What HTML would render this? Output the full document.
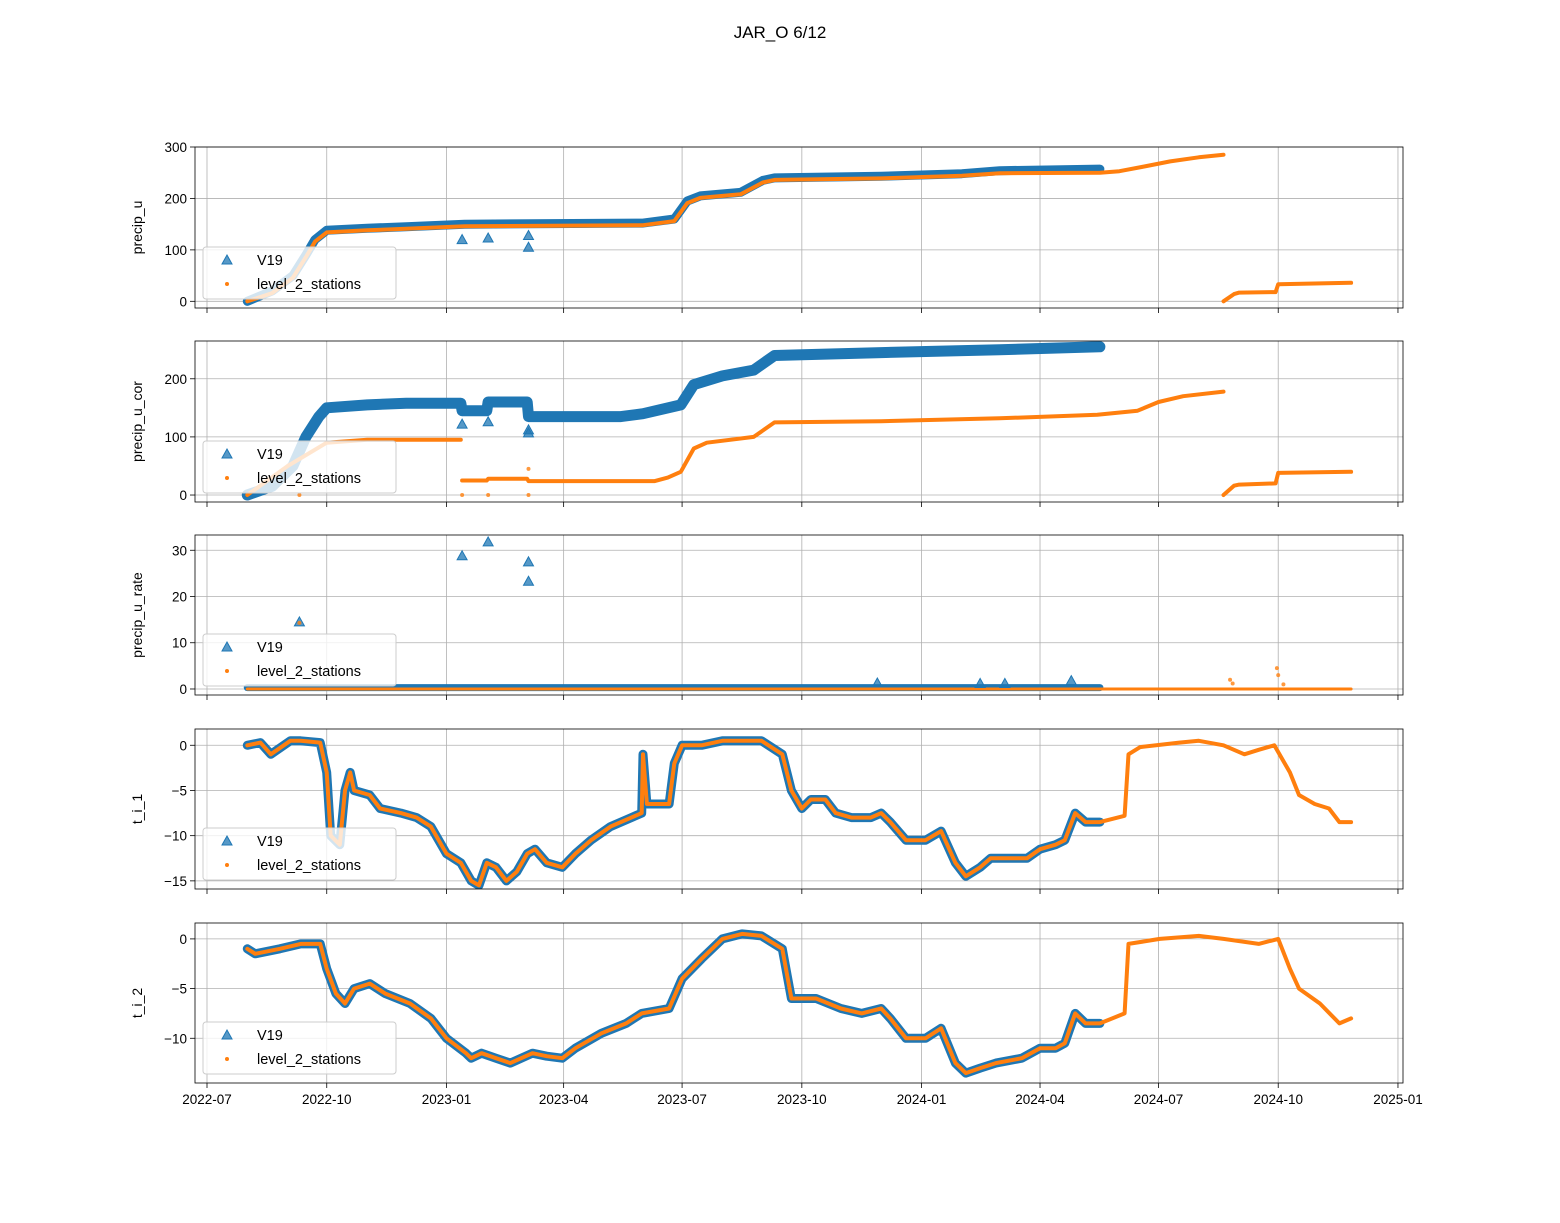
<!DOCTYPE html>
<html><head><meta charset="utf-8"><style>
body{margin:0;background:#fff;}
svg text{font-family:"Liberation Sans","DejaVu Sans",sans-serif;}
</style></head><body>
<svg id="fig" width="1560" height="1218" viewBox="0 0 1560 1218" xmlns="http://www.w3.org/2000/svg">
<rect width="1560" height="1218" fill="#fff"/>
<text x="780" y="38" text-anchor="middle" font-size="17">JAR_O 6/12</text>
</svg>
<script>
// ---------- data ----------
const xTickLabels = ["2022-07","2022-10","2023-01","2023-04","2023-07","2023-10","2024-01","2024-04","2024-07","2024-10","2025-01"];

const p1BlueDates = ["2022-08-01","2022-08-20","2022-09-05","2022-09-15","2022-09-22","2022-10-01","2022-11-01","2022-12-01","2023-01-15","2023-06-01","2023-06-25","2023-07-05","2023-07-15","2023-08-15","2023-09-01","2023-09-10","2023-12-01","2024-02-01","2024-03-01","2024-05-17"];
const p1BlueVals  = [0,20,50,90,120,138,142,145,150,152,160,195,205,212,235,240,243,248,254,257];
const p1OrangeDates = ["2022-08-01","2022-08-20","2022-09-05","2022-09-15","2022-09-22","2022-10-01","2022-11-01","2022-12-01","2023-01-15","2023-06-01","2023-06-25","2023-07-05","2023-07-15","2023-08-15","2023-09-01","2023-09-10","2023-12-01","2024-02-01","2024-03-01","2024-05-17","2024-06-01","2024-06-20","2024-07-10","2024-08-01","2024-08-20",null,"2024-08-20","2024-08-28","2024-09-01","2024-09-29","2024-10-01","2024-11-26"];
const p1OrangeVals  = [0,16,46,86,116,134,138,141,146,148,156,191,201,208,231,236,239,244,249,250,253,262,272,280,285,null,0,14,17,18,33,36];
const p1BlueOutDates = ["2023-01-13","2023-02-02","2023-03-05","2023-03-05"];
const p1BlueOutVals  = [120,123,105,128];

const p2BlueDates = ["2022-08-01","2022-08-20","2022-09-05","2022-09-15","2022-09-25","2022-10-01","2022-11-01","2022-12-01","2023-01-12","2023-01-13","2023-02-01","2023-02-02","2023-03-04","2023-03-05","2023-05-15","2023-06-01","2023-06-30","2023-07-10","2023-08-01","2023-08-25","2023-09-10","2023-12-01","2024-03-01","2024-05-17"];
const p2BlueVals  = [0,15,50,100,135,150,155,158,158,145,145,160,160,135,135,140,155,190,205,215,240,245,250,255];
const p2OrangeDates = ["2022-08-01","2022-09-01","2022-10-01","2022-11-01","2023-01-12",null,"2023-01-13","2023-02-01","2023-02-02","2023-03-04","2023-03-05","2023-06-10","2023-06-20","2023-06-30","2023-07-10","2023-07-20","2023-08-25","2023-09-10","2023-12-01","2024-03-01","2024-05-15","2024-06-15","2024-07-01","2024-07-20","2024-08-20",null,"2024-08-20","2024-08-28","2024-09-01","2024-09-29","2024-10-01","2024-11-26"];
const p2OrangeVals  = [0,50,90,95,95,null,25,25,28,28,24,24,30,40,80,90,100,125,127,132,138,145,160,170,178,null,0,16,18,20,38,40];
const p2BlueOutDates = ["2023-01-13","2023-02-02","2023-03-05","2023-03-05"];
const p2BlueOutVals  = [122,126,112,107];
const p2OrangeOutDates = ["2022-09-10","2023-01-13","2023-02-02","2023-03-05","2023-03-05"];
const p2OrangeOutVals  = [0,0,0,0,45];

const p3BlueDates = ["2022-08-01","2024-05-17"];
const p3BlueVals  = [0.3,0.3];
const p3OrangeDates = ["2022-08-01","2024-11-26"];
const p3OrangeVals  = [0,0];
const p3BlueOutDates = ["2022-09-10","2023-01-13","2023-02-02","2023-03-05","2023-03-05","2023-11-28","2024-02-15","2024-03-05","2024-04-25"];
const p3BlueOutVals  = [14.5,28.8,31.8,27.5,23.3,1.3,1.2,1.2,1.8];
const p3OrangeOutDates = ["2022-09-10","2024-08-25","2024-08-27","2024-09-30","2024-10-01","2024-10-05"];
const p3OrangeOutVals  = [14.3,2,1.2,4.5,3,1];

const p4BlueDates = ["2022-08-01","2022-08-11","2022-08-19","2022-09-03","2022-09-11","2022-09-26","2022-10-01","2022-10-04","2022-10-11","2022-10-15","2022-10-19","2022-10-22","2022-11-03","2022-11-11","2022-11-27","2022-12-09","2022-12-20","2023-01-01","2023-01-12","2023-01-20","2023-01-26","2023-02-01","2023-02-08","2023-02-16","2023-02-24","2023-03-04","2023-03-10","2023-03-19","2023-03-31","2023-04-10","2023-04-22","2023-05-07","2023-05-23","2023-05-31","2023-06-01","2023-06-04","2023-06-21","2023-06-25","2023-07-01","2023-07-16","2023-08-01","2023-08-16","2023-08-31","2023-09-16","2023-09-23","2023-10-01","2023-10-08","2023-10-19","2023-10-27","2023-11-08","2023-11-23","2023-12-01","2023-12-08","2023-12-20","2024-01-04","2024-01-16","2024-01-27","2024-02-04","2024-02-15","2024-02-23","2024-03-10","2024-03-22","2024-04-01","2024-04-13","2024-04-20","2024-04-28","2024-05-06","2024-05-17"];
const p4BlueVals = [0,0.3,-1,0.5,0.5,0.3,-3,-10,-11,-5,-3,-5,-5.5,-7,-7.5,-8,-9,-12,-13,-15,-15.5,-13,-13.5,-15,-14,-12,-11.5,-13,-13.5,-12,-10.5,-9,-8,-7.5,-1,-6.5,-6.5,-2,0,0,0.5,0.5,0.5,-1,-5,-7,-6,-6,-7.5,-8,-8,-7.5,-8.5,-10.5,-10.5,-9.5,-13,-14.5,-13.5,-12.5,-12.5,-12.5,-11.5,-11,-10.5,-7.5,-8.5,-8.5];
const p4OrangeExtDates = ["2024-05-17","2024-06-05","2024-06-08","2024-06-17","2024-07-17","2024-08-01","2024-08-20","2024-09-05","2024-09-16","2024-09-28","2024-10-10","2024-10-17","2024-10-29","2024-11-09","2024-11-17","2024-11-26"];
const p4OrangeExtVals  = [-8.5,-7.8,-1,-0.2,0.3,0.5,0,-1,-0.5,0,-3,-5.5,-6.5,-7,-8.5,-8.5];

const p5BlueDates = ["2022-08-01","2022-08-07","2022-08-26","2022-09-11","2022-09-26","2022-10-01","2022-10-08","2022-10-15","2022-10-22","2022-11-03","2022-11-15","2022-12-04","2022-12-20","2023-01-01","2023-01-16","2023-01-20","2023-01-28","2023-02-08","2023-02-19","2023-03-08","2023-03-19","2023-03-31","2023-04-10","2023-04-30","2023-05-19","2023-05-31","2023-06-21","2023-07-01","2023-07-16","2023-08-01","2023-08-16","2023-08-31","2023-09-16","2023-09-23","2023-10-01","2023-10-12","2023-10-31","2023-11-16","2023-12-01","2023-12-08","2023-12-20","2024-01-04","2024-01-16","2024-01-27","2024-02-04","2024-02-15","2024-02-27","2024-03-18","2024-04-01","2024-04-13","2024-04-20","2024-04-28","2024-05-06","2024-05-17"];
const p5BlueVals = [-1,-1.5,-1,-0.5,-0.5,-3,-5.5,-6.5,-5,-4.5,-5.5,-6.5,-8,-10,-11.5,-12,-11.5,-12,-12.5,-11.5,-11.8,-12,-11,-9.5,-8.5,-7.5,-7,-4,-2,0,0.5,0.3,-1,-6,-6,-6,-7,-7.5,-7,-8,-10,-10,-9,-12.5,-13.5,-13,-12.5,-12,-11,-11,-10.5,-7.5,-8.5,-8.5];
const p5OrangeExtDates = ["2024-05-17","2024-06-05","2024-06-08","2024-07-02","2024-08-01","2024-08-20","2024-09-16","2024-10-01","2024-10-10","2024-10-17","2024-11-02","2024-11-17","2024-11-26"];
const p5OrangeExtVals  = [-8.5,-7.5,-0.5,0,0.3,0,-0.5,0,-3,-5,-6.5,-8.5,-8];

// ---------- rendering ----------
const NS="http://www.w3.org/2000/svg";
const svg=document.getElementById('fig');
const X0=195,X1=1403;
const T0=Date.UTC(2022,6,1), PXD=1.3016, XT0=207;
function xScale(d){const p=d.split('-');return XT0+(Date.UTC(+p[0],+p[1]-1,+p[2])-T0)/864e5*PXD;}
function el(tag,attrs,parent){const e=document.createElementNS(NS,tag);for(const k in attrs)e.setAttribute(k,attrs[k]);(parent||svg).appendChild(e);return e;}

function pathFrom(dates,vals,ys){let d='',pen=false;for(let i=0;i<dates.length;i++){if(dates[i]===null){pen=false;continue;}d+=(pen?'L':'M')+xScale(dates[i]).toFixed(1)+','+ys(vals[i]).toFixed(1);pen=true;}return d;}

const panels=[
 {name:'precip-u',label:'precip_u',top:147,bot:308,vmin:-13,vmax:300,ticks:[0,100,200,300],bw:9,ow:4,
  b:[p1BlueDates,p1BlueVals],o:[p1OrangeDates,p1OrangeVals],bo:[p1BlueOutDates,p1BlueOutVals],oo:null},
 {name:'precip-u-cor',label:'precip_u_cor',top:341,bot:502,vmin:-12,vmax:265,ticks:[0,100,200],bw:11,ow:4,
  b:[p2BlueDates,p2BlueVals],o:[p2OrangeDates,p2OrangeVals],bo:[p2BlueOutDates,p2BlueOutVals],oo:[p2OrangeOutDates,p2OrangeOutVals]},
 {name:'precip-u-rate',label:'precip_u_rate',top:535,bot:695,vmin:-1.3,vmax:33.3,ticks:[0,10,20,30],bw:7,ow:3,
  b:[p3BlueDates,p3BlueVals],o:[p3OrangeDates,p3OrangeVals],bo:[p3BlueOutDates,p3BlueOutVals],oo:[p3OrangeOutDates,p3OrangeOutVals]},
 {name:'t-i-1',label:'t_i_1',top:729,bot:889,vmin:-15.9,vmax:1.8,ticks:[0,-5,-10,-15],bw:9,ow:4,
  b:[p4BlueDates,p4BlueVals],o:[p4BlueDates.concat(p4OrangeExtDates),p4BlueVals.concat(p4OrangeExtVals)],bo:null,oo:null},
 {name:'t-i-2',label:'t_i_2',top:923,bot:1083,vmin:-14.5,vmax:1.6,ticks:[0,-5,-10],bw:9,ow:4,
  b:[p5BlueDates,p5BlueVals],o:[p5BlueDates.concat(p5OrangeExtDates),p5BlueVals.concat(p5OrangeExtVals)],bo:null,oo:null}
];

panels.forEach((P,pi)=>{
 const g=el('g',{});
 
 
 const ys=v=>P.bot-(v-P.vmin)/(P.vmax-P.vmin)*(P.bot-P.top);
 const clipId='clip'+pi;
 const cp=el('clipPath',{id:clipId},g);el('rect',{x:X0,y:P.top,width:X1-X0,height:P.bot-P.top},cp);
 xTickLabels.forEach(t=>{const x=xScale(t+'-01');
  const l=el('line',{x1:x,x2:x,y1:P.top,y2:P.bot,stroke:'#b0b0b0','stroke-width':0.8},g);
  
  el('line',{x1:x,x2:x,y1:P.bot,y2:P.bot+5,stroke:'#000','stroke-width':0.8},g);
  if(pi===4){const tx=el('text',{x:x,y:P.bot+21,'text-anchor':'middle','font-size':13.5},g);tx.textContent=t;
   }
 });
 P.ticks.forEach(v=>{const y=ys(v);
  const l=el('line',{x1:X0,x2:X1,y1:y,y2:y,stroke:'#b0b0b0','stroke-width':0.8},g);
  
  el('line',{x1:X0-5,x2:X0,y1:y,y2:y,stroke:'#000','stroke-width':0.8},g);
  const tx=el('text',{x:X0-8,y:y+5,'text-anchor':'end','font-size':13.5},g);tx.textContent=(v<0?'\u2212'+(-v):v);
  
 });
 const dg=el('g',{'clip-path':'url(#'+clipId+')'},g);
 const bl=el('path',{d:pathFrom(P.b[0],P.b[1],ys),fill:'none',stroke:'#1f77b4','stroke-width':P.bw,'stroke-linejoin':'round','stroke-linecap':'round'},dg);
 
 const ol=el('path',{d:pathFrom(P.o[0],P.o[1],ys),fill:'none',stroke:'#ff7f0e','stroke-width':P.ow,'stroke-linejoin':'round','stroke-linecap':'round'},dg);
 
 if(P.bo){P.bo[0].forEach((d,i)=>{const x=xScale(d),y=ys(P.bo[1][i]);
  const m=el('path',{d:`M${x},${y-5}L${x+5},${y+4}L${x-5},${y+4}Z`,fill:'#1f77b4','fill-opacity':0.75,stroke:'#1f77b4','stroke-width':1},dg);
  });}
 if(P.oo){P.oo[0].forEach((d,i)=>{
  const m=el('circle',{cx:xScale(d),cy:ys(P.oo[1][i]),r:2,fill:'#ff7f0e','fill-opacity':0.8},dg);
  });}
 const fr=el('rect',{x:X0,y:P.top,width:X1-X0,height:P.bot-P.top,fill:'none',stroke:'#000','stroke-width':0.8},g);
 
 const yl=el('text',{x:0,y:0,'text-anchor':'middle','font-size':14,transform:`translate(142,${(P.top+P.bot)/2}) rotate(-90)`},g);
 yl.textContent=P.label;
 const lg=el('g',{},g);
 const ly=P.bot-61;
 el('rect',{x:203,y:ly,width:193,height:52,rx:3,fill:'#fff','fill-opacity':0.8,stroke:'#ccc','stroke-width':1},lg);
 el('path',{d:`M227,${ly+8}L232,${ly+17}L222,${ly+17}Z`,fill:'#1f77b4','fill-opacity':0.75,stroke:'#1f77b4'},lg);
 const t1=el('text',{x:257,y:ly+18,'font-size':14.5},lg);t1.textContent='V19';
 
 el('circle',{cx:227,cy:ly+37,r:2,fill:'#ff7f0e'},lg);
 const t2=el('text',{x:257,y:ly+42,'font-size':14.5},lg);t2.textContent='level_2_stations';
 
});
</script>
</body></html>
